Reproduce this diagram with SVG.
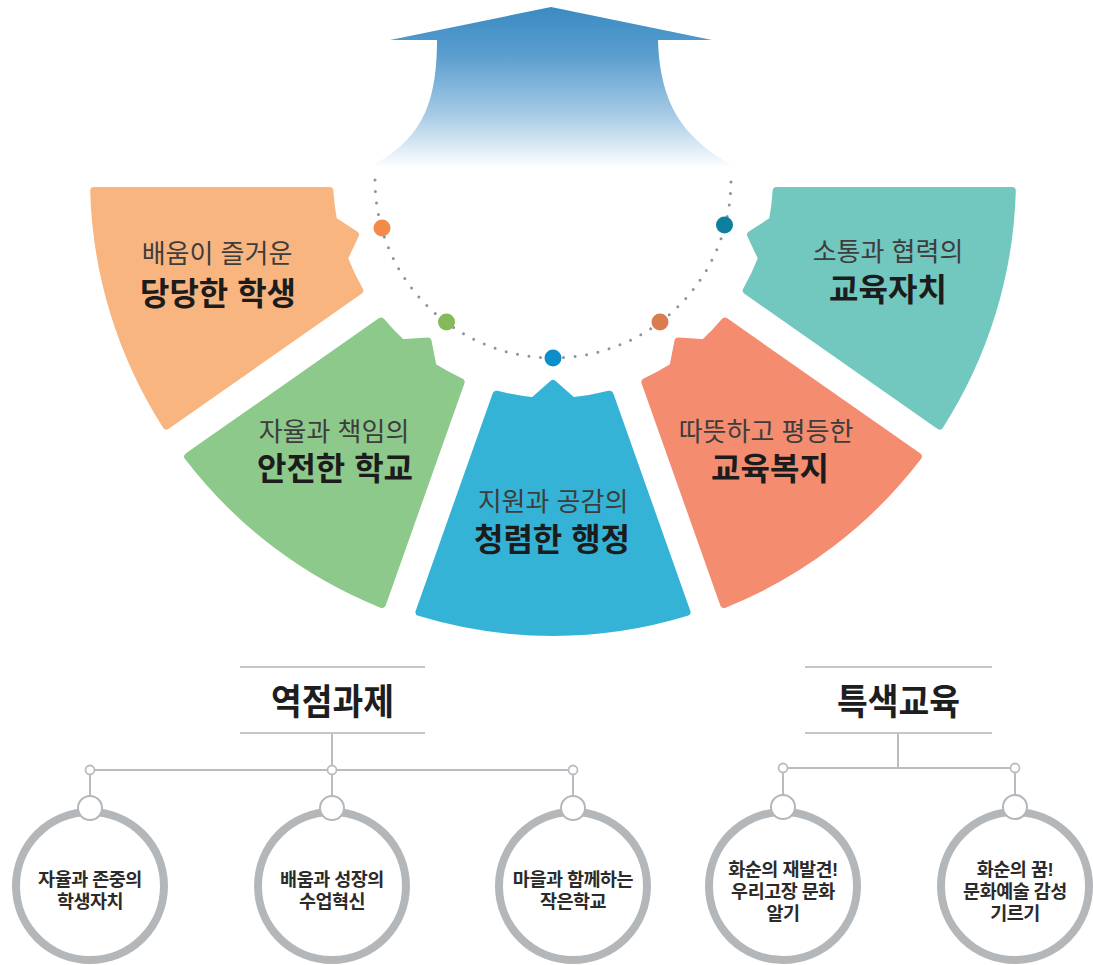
<svg xmlns="http://www.w3.org/2000/svg" width="1093" height="965" viewBox="0 0 1093 965">
  <defs>
    <linearGradient id="arrowGrad" x1="0" y1="7" x2="0" y2="168" gradientUnits="userSpaceOnUse">
      <stop offset="0" stop-color="#3a8bc3"/>
      <stop offset="0.3" stop-color="#5a9ecf"/>
      <stop offset="0.68" stop-color="#a9cce6"/>
      <stop offset="1" stop-color="#ffffff"/>
    </linearGradient>
  </defs>
  <style>
    .petal { stroke-width: 8; stroke-linejoin: round; }
    .t1 { font-family: "Liberation Sans", "Noto Sans CJK KR", sans-serif; font-size: 26px; font-weight: 400; fill: #3d3d3d; text-anchor: middle; }
    .t2 { font-family: "Liberation Sans", "Noto Sans CJK KR", sans-serif; font-size: 32px; font-weight: 700; fill: #1c1c1c; text-anchor: middle; }
    .head { font-family: "Liberation Sans", "Noto Sans CJK KR", sans-serif; font-size: 36px; font-weight: 700; fill: #1e1e1e; text-anchor: middle; }
    .ct { font-family: "Liberation Sans", "Noto Sans CJK KR", sans-serif; font-size: 18.5px; font-weight: 700; fill: #2b2b2b; text-anchor: middle; letter-spacing: -0.5px; }
    .hline { stroke: #c3c6ca; stroke-width: 2; }
    .conn { stroke: #b9bdc1; stroke-width: 2; fill: none; }
    .knob { fill: #ffffff; stroke: #b9bdc1; stroke-width: 1.8; }
    .plug { fill: #ffffff; stroke: #b3b7bb; stroke-width: 2; }
    .ring { fill: #ffffff; stroke: #b4b7ba; stroke-width: 8; }
    .dot { stroke: none; }
  </style>

  <rect width="1093" height="965" fill="#ffffff"/>

  <!-- Arrow -->
  <g id="arrow">
    <path d="M551,7 L712,40 L658,40 C660,110 688,140 733,166 L372,166 C418,140 437,110 437,40 L390,40 Z" fill="url(#arrowGrad)"/>
  </g>

  <!-- Dotted arc with colored dots -->
  <g id="arc">
    <path d="M375,180 A178,178 0 0 0 731,180" fill="none" stroke="#8e939a" stroke-width="3" stroke-linecap="round" stroke-dasharray="0 11.6"/>
    <circle class="dot" cx="382" cy="228" r="8.5" fill="#f28a4a"/>
    <circle class="dot" cx="446.5" cy="322" r="8.5" fill="#86b95a"/>
    <circle class="dot" cx="553" cy="358" r="8.5" fill="#0a8fcb"/>
    <circle class="dot" cx="660" cy="322" r="8.5" fill="#d97c4f"/>
    <circle class="dot" cx="724.5" cy="225" r="8.5" fill="#0f7f9f"/>
  </g>

  <!-- Petals -->
  <g id="petal-student">
    <path class="petal" fill="#f8b57f" stroke="#f8b57f" d="M94.18,191 L329.38,191 A224,224 0 0 0 333.11,220.74 L354.98,234.78 L343.88,258.27 A224,224 0 0 0 359.27,290.46 L166.43,425.49 A459,459 0 0 1 94.18,191 Z"/>
    <text class="t1" x="217" y="263">배움이 즐거운</text>
    <text class="t2" x="218" y="305">당당한 학생</text>
  </g>

  <g id="petal-school">
    <path class="petal" fill="#8cc98b" stroke="#8cc98b" d="M381.07,321.58 A224,224 0 0 0 401.67,343.15 L427.60,341.43 L432.64,366.92 A224,224 0 0 0 460.59,382.05 L382.00,603.96 A459,459 0 0 1 188.23,456.61 Z"/>
    <text class="t1" x="334" y="441">자율과 책임의</text>
    <text class="t2" x="335" y="480">안전한 학교</text>
  </g>

  <g id="petal-admin">
    <path class="petal" fill="#35b3d7" stroke="#35b3d7" d="M496.41,394.73 A224,224 0 0 0 533.48,401.15 L553,384 L572.52,401.15 A224,224 0 0 0 609.59,394.73 L686.5,612 A456,456 0 0 1 419.5,612 Z"/>
    <text class="t1" x="553" y="511">지원과 공감의</text>
    <text class="t2" x="552" y="551">청렴한 행정</text>
  </g>

  <g id="petal-welfare">
    <path class="petal" fill="#f48c70" stroke="#f48c70" d="M645.41,382.05 A224,224 0 0 0 673.36,366.92 L678.40,341.43 L704.33,343.15 A224,224 0 0 0 724.93,321.58 L917.77,456.61 A459,459 0 0 1 724.00,603.96 Z"/>
    <text class="t1" x="766" y="441">따뜻하고 평등한</text>
    <text class="t2" x="770" y="480">교육복지</text>
  </g>

  <g id="petal-autonomy">
    <path class="petal" fill="#72c8bf" stroke="#72c8bf" d="M746.73,290.46 A224,224 0 0 0 762.12,258.27 L751.02,234.78 L772.89,220.74 A224,224 0 0 0 776.62,191 L1011.82,191 A459,459 0 0 1 939.57,425.49 Z"/>
    <text class="t1" x="888" y="261">소통과 협력의</text>
    <text class="t2" x="888" y="301">교육자치</text>
  </g>

  <!-- Connectors (tree lines) -->
  <g id="connectors">
    <line class="conn" x1="332" y1="733" x2="332" y2="770"/>
    <line class="conn" x1="90" y1="770" x2="573" y2="770"/>
    <line class="conn" x1="90" y1="770" x2="90" y2="797"/>
    <line class="conn" x1="332" y1="770" x2="332" y2="797"/>
    <line class="conn" x1="573" y1="770" x2="573" y2="797"/>
    <line class="conn" x1="898" y1="733" x2="898" y2="768"/>
    <line class="conn" x1="783" y1="768" x2="1015" y2="768"/>
    <line class="conn" x1="783" y1="768" x2="783" y2="796"/>
    <line class="conn" x1="1015" y1="768" x2="1015" y2="796"/>
    <circle class="knob" cx="90" cy="770" r="4.5"/>
    <circle class="knob" cx="332" cy="770" r="4.5"/>
    <circle class="knob" cx="573" cy="770" r="4.5"/>
    <circle class="knob" cx="783" cy="768" r="4.5"/>
    <circle class="knob" cx="1015" cy="768" r="4.5"/>
  </g>

  <!-- Headers -->
  <g id="header-core">
    <line class="hline" x1="240" y1="667" x2="425" y2="667"/>
    <line class="hline" x1="240" y1="733" x2="425" y2="733"/>
    <text class="head" x="332.5" y="715" textLength="123" lengthAdjust="spacingAndGlyphs">역점과제</text>
  </g>
  <g id="header-special">
    <line class="hline" x1="805" y1="667" x2="992" y2="667"/>
    <line class="hline" x1="805" y1="733" x2="992" y2="733"/>
    <text class="head" x="898.5" y="715" textLength="123" lengthAdjust="spacingAndGlyphs">특색교육</text>
  </g>

  <!-- Circle nodes -->
  <g id="node-1">
    <circle class="ring" cx="90" cy="886" r="74"/>
    <circle class="plug" cx="90" cy="808" r="12"/>
    <text class="ct"><tspan x="90" y="886">자율과 존중의</tspan><tspan x="90" y="908">학생자치</tspan></text>
  </g>
  <g id="node-2">
    <circle class="ring" cx="332" cy="886" r="74"/>
    <circle class="plug" cx="332" cy="808" r="12"/>
    <text class="ct"><tspan x="332" y="886">배움과 성장의</tspan><tspan x="332" y="908">수업혁신</tspan></text>
  </g>
  <g id="node-3">
    <circle class="ring" cx="573" cy="886" r="74"/>
    <circle class="plug" cx="573" cy="808" r="12"/>
    <text class="ct"><tspan x="573" y="886">마을과 함께하는</tspan><tspan x="573" y="908">작은학교</tspan></text>
  </g>
  <g id="node-4">
    <circle class="ring" cx="783" cy="886" r="74"/>
    <circle class="plug" cx="783" cy="807" r="12"/>
    <text class="ct"><tspan x="783" y="876">화순의 재발견!</tspan><tspan x="783" y="898">우리고장 문화</tspan><tspan x="783" y="920">알기</tspan></text>
  </g>
  <g id="node-5">
    <circle class="ring" cx="1015" cy="886" r="74"/>
    <circle class="plug" cx="1015" cy="807" r="12"/>
    <text class="ct"><tspan x="1015" y="876">화순의 꿈!</tspan><tspan x="1015" y="898">문화예술 감성</tspan><tspan x="1015" y="920">기르기</tspan></text>
  </g>
</svg>
